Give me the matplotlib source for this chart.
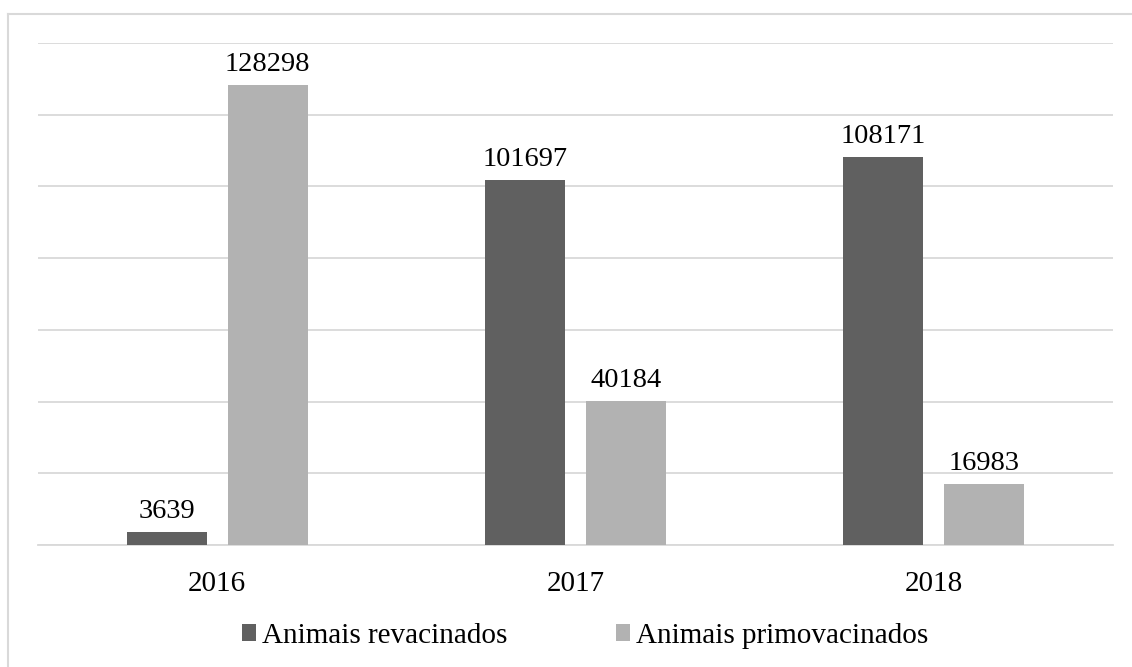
import matplotlib.pyplot as plt
import numpy as np
from matplotlib.lines import Line2D

plt.rcParams['font.family'] = ['Liberation Serif', 'DejaVu Serif']

anos = ['2016', '2017', '2018']
revacinados = [3639, 101697, 108171]
primovacinados = [128298, 40184, 16983]

cor_rev = '#606060'
cor_prim = '#b2b2b2'

fig = plt.figure(figsize=(11.32, 6.67), dpi=100)
ax = fig.add_axes([38 / 1132, 122 / 667, 1075 / 1132, 502 / 667])

x = np.arange(len(anos))
larg = 0.223
desl = 0.141
b1 = ax.bar(x - desl, revacinados, larg, color=cor_rev, label='Animais revacinados', zorder=3)
b2 = ax.bar(x + desl, primovacinados, larg, color=cor_prim, label='Animais primovacinados', zorder=3)

# valores em cima das barras
for barras, vals in ((b1, revacinados), (b2, primovacinados)):
    for r, v in zip(barras, vals):
        ax.annotate(str(v), (r.get_x() + r.get_width() / 2, v), xytext=(0, 6),
                    textcoords='offset points', ha='center', va='bottom', fontsize=20.5)

ax.set_xlim(-0.5, 2.5)
ax.set_ylim(0, 140000)
ax.set_yticks(np.arange(0, 140001, 20000))
ax.yaxis.grid(True, color='#d9d9d9', linewidth=1.3, zorder=0)
ax.set_yticklabels([])
ax.tick_params(axis='y', length=0)
ax.set_xticks(x)
ax.set_xticklabels(anos, fontsize=21)
ax.tick_params(axis='x', length=0, pad=19)
for s in ['top', 'right', 'left']:
    ax.spines[s].set_visible(False)
ax.spines['bottom'].set_color('#d9d9d9')
ax.spines['bottom'].set_linewidth(1.3)

leg = fig.legend(loc='center', bbox_to_anchor=(585 / 1132, 1 - 636 / 667), ncol=2,
                 frameon=False, fontsize=21, handlelength=0.5, handleheight=0.5,
                 handletextpad=0.2, columnspacing=3.7)

# moldura do grafico
fig.add_artist(Line2D([8 / 1132, 1], [1 - 14 / 667] * 2, color='#d9d9d9', linewidth=1.5))
fig.add_artist(Line2D([8 / 1132] * 2, [0, 1 - 14 / 667], color='#d9d9d9', linewidth=1.5))

fig.savefig('out.png', dpi=100)
